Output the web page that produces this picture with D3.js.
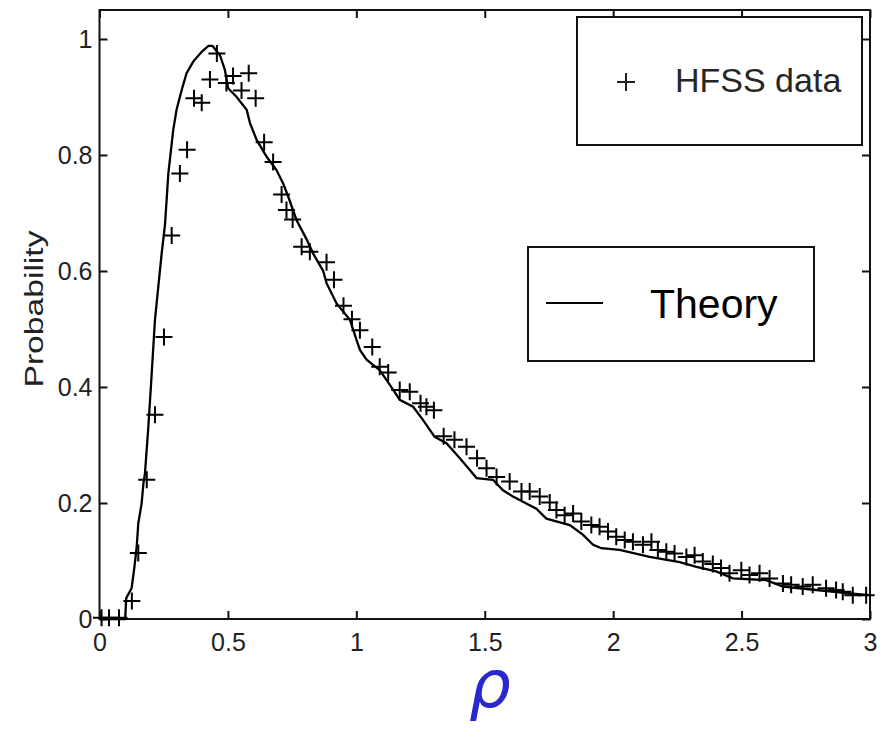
<!DOCTYPE html>
<html>
<head>
<meta charset="utf-8">
<script src="https://cdn.jsdelivr.net/npm/d3@7"></script>
<style>
  html, body { margin: 0; padding: 0; background: #fff; }
  svg { display: block; font-family: "Liberation Sans", Arial, sans-serif; }
</style>
</head>
<body>
<div id="chart"></div>
<script>
// theory curve (rho, probability)
const theoryX = [0, 0.100, 0.104, 0.125, 0.136, 0.145, 0.151, 0.164, 0.171, 0.177, 0.190, 0.200, 0.216, 0.229, 0.242, 0.255, 0.268, 0.287, 0.300, 0.320, 0.339, 0.365, 0.398, 0.424, 0.440, 0.469, 0.488, 0.501, 0.534, 0.573, 0.586, 0.612, 0.651, 0.689, 0.715, 0.735, 0.767, 0.806, 0.832, 0.871, 0.884, 0.923, 0.975, 1.001, 1.014, 1.040, 1.091, 1.130, 1.169, 1.221, 1.260, 1.305, 1.351, 1.403, 1.442, 1.468, 1.532, 1.571, 1.610, 1.662, 1.701, 1.740, 1.831, 1.883, 1.922, 1.954, 2.025, 2.142, 2.259, 2.324, 2.401, 2.466, 2.596, 2.661, 2.791, 2.920, 3.000];
const theoryY = [0, 0, 0.036, 0.053, 0.090, 0.125, 0.165, 0.199, 0.234, 0.251, 0.330, 0.400, 0.516, 0.573, 0.630, 0.680, 0.768, 0.843, 0.878, 0.912, 0.941, 0.961, 0.978, 0.988, 0.988, 0.972, 0.947, 0.915, 0.900, 0.878, 0.855, 0.826, 0.797, 0.774, 0.751, 0.728, 0.688, 0.655, 0.630, 0.600, 0.579, 0.544, 0.516, 0.481, 0.464, 0.447, 0.429, 0.404, 0.378, 0.366, 0.343, 0.314, 0.303, 0.277, 0.257, 0.243, 0.240, 0.222, 0.211, 0.199, 0.190, 0.173, 0.162, 0.145, 0.128, 0.122, 0.119, 0.107, 0.098, 0.090, 0.082, 0.070, 0.067, 0.056, 0.050, 0.044, 0.041];

// HFSS simulation points
const hfssX = [0.008, 0.037, 0.076, 0.126, 0.151, 0.184, 0.216, 0.251, 0.281, 0.313, 0.341, 0.368, 0.398, 0.430, 0.457, 0.494, 0.520, 0.553, 0.581, 0.608, 0.641, 0.676, 0.709, 0.728, 0.752, 0.787, 0.819, 0.884, 0.913, 0.950, 0.983, 1.014, 1.062, 1.091, 1.124, 1.169, 1.208, 1.250, 1.273, 1.302, 1.340, 1.382, 1.429, 1.470, 1.507, 1.546, 1.597, 1.643, 1.675, 1.714, 1.753, 1.779, 1.811, 1.844, 1.876, 1.915, 1.947, 1.980, 2.012, 2.045, 2.077, 2.116, 2.149, 2.174, 2.207, 2.239, 2.285, 2.317, 2.349, 2.388, 2.420, 2.453, 2.499, 2.531, 2.570, 2.609, 2.661, 2.693, 2.738, 2.777, 2.829, 2.868, 2.894, 2.933, 2.985];
const hfssY = [0.002, 0.002, 0.002, 0.031, 0.114, 0.240, 0.352, 0.486, 0.661, 0.768, 0.809, 0.898, 0.890, 0.930, 0.975, 0.924, 0.936, 0.911, 0.941, 0.898, 0.822, 0.788, 0.732, 0.705, 0.689, 0.642, 0.633, 0.615, 0.585, 0.540, 0.517, 0.498, 0.469, 0.435, 0.425, 0.395, 0.392, 0.372, 0.366, 0.360, 0.315, 0.309, 0.297, 0.277, 0.260, 0.245, 0.237, 0.220, 0.220, 0.211, 0.201, 0.188, 0.179, 0.182, 0.168, 0.162, 0.159, 0.151, 0.142, 0.136, 0.133, 0.128, 0.133, 0.119, 0.116, 0.113, 0.107, 0.110, 0.099, 0.095, 0.088, 0.079, 0.084, 0.076, 0.079, 0.070, 0.061, 0.059, 0.056, 0.059, 0.053, 0.050, 0.047, 0.041, 0.041];

const xTicks = [0, 0.5, 1, 1.5, 2, 2.5, 3];
const xTickLabels = ["0", "0.5", "1", "1.5", "2", "2.5", "3"];
const yTicks = [0, 0.2, 0.4, 0.6, 0.8, 1];
const yTickLabels = ["0", "0.2", "0.4", "0.6", "0.8", "1"];

const width = 884;
const height = 747;
const plot = { left: 99.5, right: 870, top: 10, bottom: 619 };

const svg = d3.select("#chart").append("svg")
    .attr("width", width)
    .attr("height", height);

const x = d3.scaleLinear().domain([0, 3]).range([plot.left, plot.right]);
const y = d3.scaleLinear().domain([0, 1.05]).range([plot.bottom, plot.top]);

function styleAxis(g) {
    g.select(".domain").remove();
    g.selectAll(".tick line").attr("stroke", "#111").attr("stroke-width", 2);
    g.selectAll(".tick text").attr("fill", "#222").style("font-size", "25px");
}

// bottom + left axes with labels, ticks pointing inward
svg.append("g")
    .attr("transform", `translate(0,${plot.bottom})`)
    .call(d3.axisBottom(x).tickValues(xTicks).tickSize(-8).tickPadding(14)
        .tickFormat((d, i) => xTickLabels[i]))
    .call(styleAxis);

svg.append("g")
    .attr("transform", `translate(${plot.left},0)`)
    .call(d3.axisLeft(y).tickValues(yTicks).tickSize(-8).tickPadding(7)
        .tickFormat((d, i) => yTickLabels[i]))
    .call(styleAxis);

// mirrored ticks on top + right
svg.append("g")
    .attr("transform", `translate(0,${plot.top})`)
    .call(d3.axisTop(x).tickValues(xTicks).tickSize(-8).tickFormat(""))
    .call(styleAxis);

svg.append("g")
    .attr("transform", `translate(${plot.right},0)`)
    .call(d3.axisRight(y).tickValues(yTicks).tickSize(-8).tickFormat(""))
    .call(styleAxis);

svg.append("rect")
    .attr("x", plot.left).attr("y", plot.top)
    .attr("width", plot.right - plot.left)
    .attr("height", plot.bottom - plot.top)
    .attr("fill", "none")
    .attr("stroke", "#111")
    .attr("stroke-width", 2);

// theory line
const theory = theoryX.map((v, i) => [v, theoryY[i]]);
svg.append("path")
    .datum(theory)
    .attr("fill", "none")
    .attr("stroke", "#000")
    .attr("stroke-width", 2.3)
    .attr("d", d3.line().x(d => x(d[0])).y(d => y(d[1])));

// HFSS pluses
const hfss = hfssX.map((v, i) => [v, hfssY[i]]);
const plusSize = 8.5;
svg.append("g").selectAll("path")
    .data(hfss)
    .enter()
    .append("path")
    .attr("d", d => {
        const px = x(d[0]), py = y(d[1]);
        return `M${px - plusSize},${py}H${px + plusSize}M${px},${py - plusSize}V${py + plusSize}`;
    })
    .attr("stroke", "#000")
    .attr("stroke-width", 2);

// y label
svg.append("text")
    .attr("transform", "translate(43,309) rotate(-90)")
    .attr("text-anchor", "middle")
    .attr("textLength", 157)
    .attr("lengthAdjust", "spacingAndGlyphs")
    .style("font-size", "25px")
    .attr("fill", "#222")
    .text("Probability");

// x label (rho)
svg.append("text")
    .attr("x", 490)
    .attr("y", 707)
    .attr("text-anchor", "middle")
    .style("font-family", "'DejaVu Sans', sans-serif")
    .style("font-style", "italic")
    .style("font-size", "66px")
    .attr("fill", "#2828cc")
    .text("ρ");

// legend: HFSS data
const leg1 = svg.append("g");
leg1.append("rect")
    .attr("x", 577).attr("y", 17).attr("width", 285).attr("height", 128)
    .attr("fill", "#fff").attr("stroke", "#111").attr("stroke-width", 2);
leg1.append("path")
    .attr("d", "M617,82H635M626,73V91")
    .attr("stroke", "#222").attr("stroke-width", 2);
leg1.append("text")
    .attr("x", 675).attr("y", 92)
    .style("font-size", "34px")
    .attr("fill", "#262626")
    .text("HFSS data");

// legend: Theory
const leg2 = svg.append("g");
leg2.append("rect")
    .attr("x", 528).attr("y", 247).attr("width", 286).attr("height", 114)
    .attr("fill", "#fff").attr("stroke", "#111").attr("stroke-width", 2);
leg2.append("line")
    .attr("x1", 546).attr("x2", 603).attr("y1", 303).attr("y2", 303)
    .attr("stroke", "#000").attr("stroke-width", 2);
leg2.append("text")
    .attr("x", 650).attr("y", 318)
    .style("font-size", "41px")
    .attr("fill", "#000")
    .text("Theory");
</script>
</body>
</html>
